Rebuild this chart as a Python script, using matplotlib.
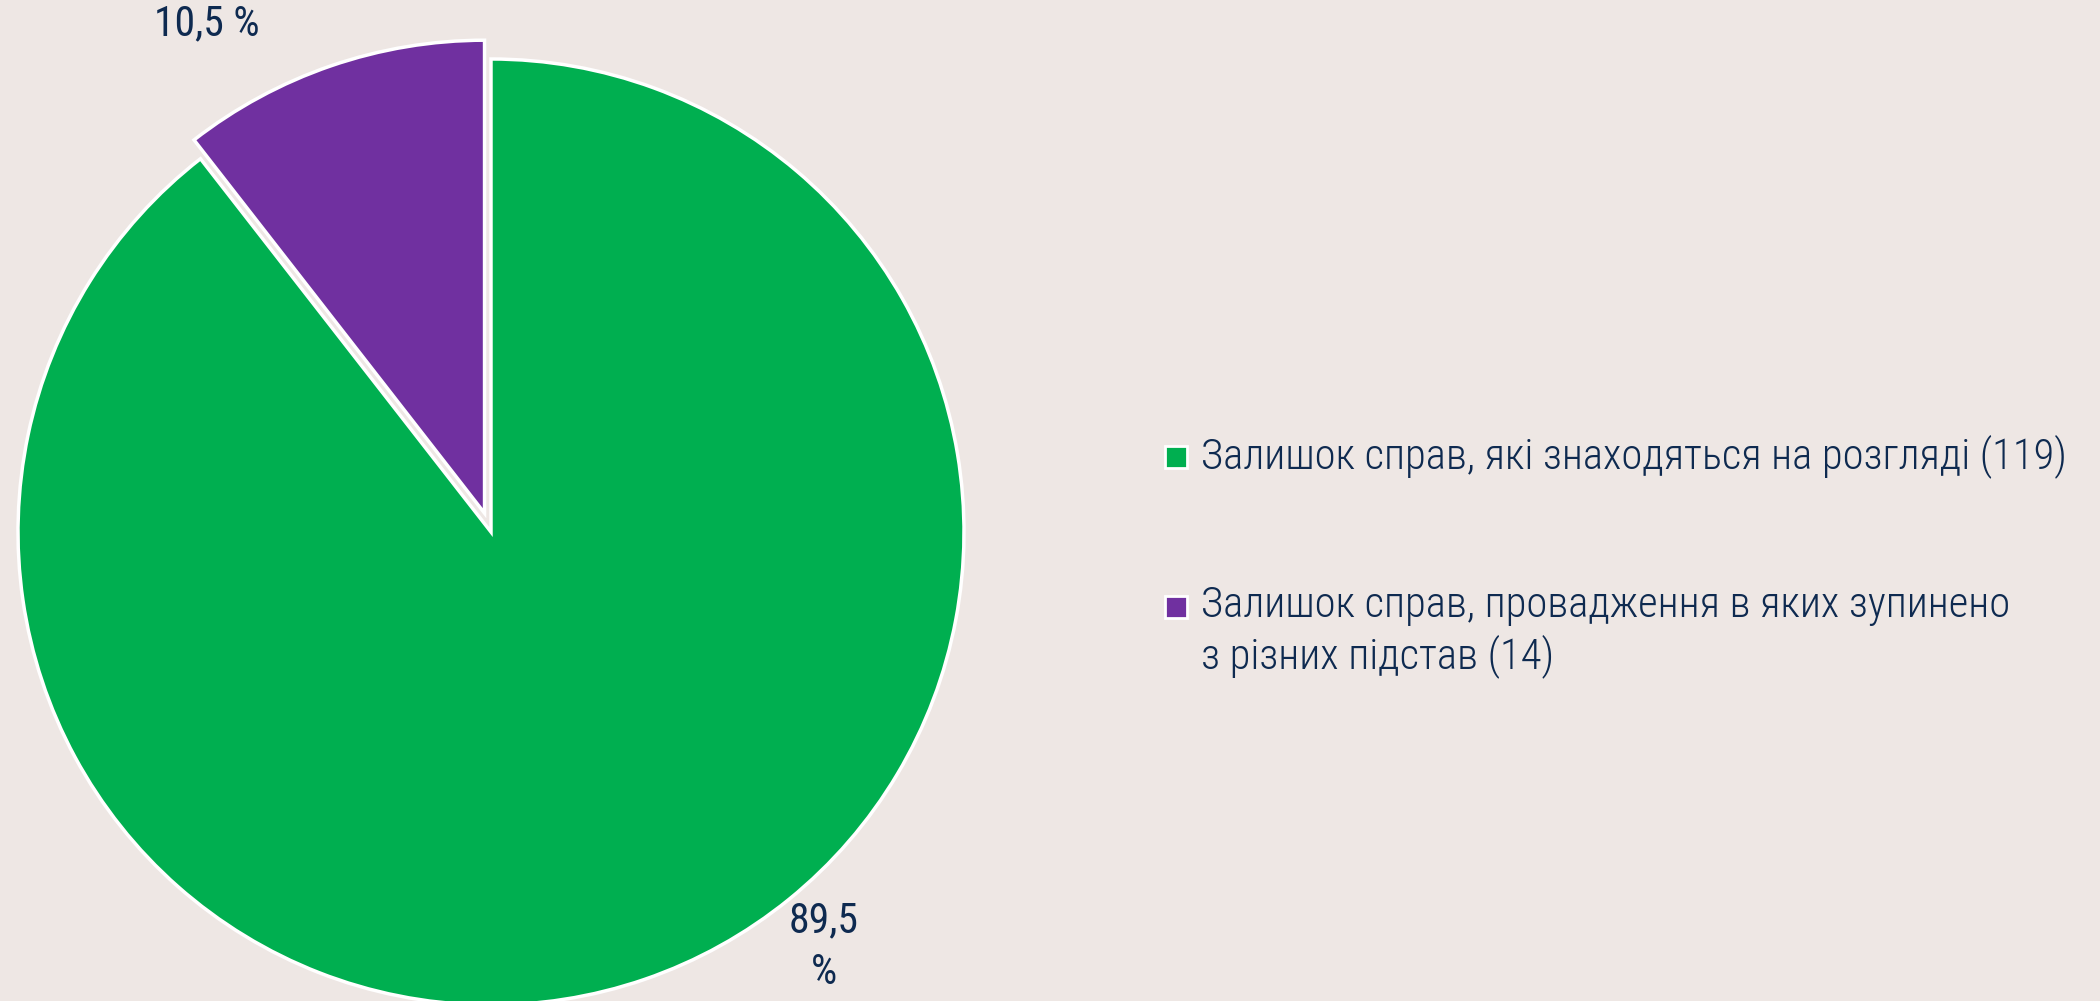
import matplotlib
matplotlib.use("Agg")
import matplotlib.pyplot as plt
from matplotlib import font_manager
from matplotlib.patches import Rectangle

# ---- data ----
categories = [
    "Залишок справ, які знаходяться на розгляді (119)",
    "Залишок справ, провадження в яких зупинено\nз різних підстав (14)",
]
counts = [119, 14]
pct_labels = ["89,5\n%", "10,5 %"]
colors = ["#00AF50", "#7030A0"]

BG = "#EEE7E4"
TXT = "#0E2A50"

names = {f.name for f in font_manager.fontManager.ttflist}
family = "Roboto"
for cand in ["Roboto Condensed", "Liberation Sans Narrow", "Open Sans Condensed", "Roboto"]:
    if cand in names:
        family = cand
        break
plt.rcParams["font.family"] = [family, "DejaVu Sans"]

W, H = 2100, 1001
fig = plt.figure(figsize=(W / 100, H / 100), dpi=100, facecolor=BG)
ax = fig.add_axes([0, 0, 1, 1])
ax.set_facecolor(BG)

R = 473.0
cx, cy = 491.0, 1001 - 532.0

wedges, _ = ax.pie(counts, colors=colors, startangle=90, counterclock=False,
                   explode=[0, 0.042],
                   wedgeprops=dict(edgecolor="white", linewidth=2.5, joinstyle="miter"))
ax.set_xlim(-cx / R, (W - cx) / R)
ax.set_ylim(-cy / R, (H - cy) / R)
ax.set_aspect("auto")
ax.axis("off")

fs = 30
# percentage labels
ax.text(0.703, -0.877, pct_labels[0], ha="center", va="center", fontsize=fs,
        color=TXT, linespacing=1.32)
ax.text(-0.60, 1.074, pct_labels[1], ha="center", va="center", fontsize=fs,
        color=TXT)

# legend (manual)
lfs = 30.7
leg_y = [457, 607]
for lab, col, yy in zip(categories, colors, leg_y):
    yf = 1 - yy / H
    s = 22
    fig.patches.append(Rectangle(((1176 - s / 2) / W, yf - (s / 2) / H), s / W, s / H,
                                 transform=fig.transFigure, facecolor=col,
                                 edgecolor="white", linewidth=2))
    fig.text(1201 / W, yf + 0.5 * 45 / H, lab, ha="left", va="top", fontsize=lfs,
             color=TXT, linespacing=1.24, fontweight="light")

fig.savefig("out.png", dpi=100, facecolor=BG)
